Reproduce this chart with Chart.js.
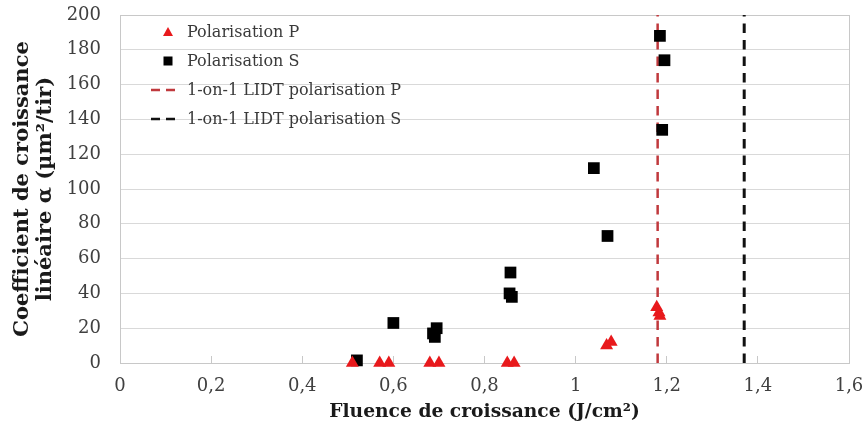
<!DOCTYPE html>
<html>
<head>
<meta charset="utf-8">
<script src="https://cdn.jsdelivr.net/npm/chart.js@4.4.1/dist/chart.umd.min.js"></script>
<style>
  html, body { margin: 0; padding: 0; background: #fff; }
</style>
</head>
<body>
<canvas id="chart" width="866" height="434"></canvas>
<script>
// Polarisation P (triangles rouges)
const fluenceP = [0.51, 0.57, 0.59, 0.68, 0.70, 0.85, 0.865, 1.068, 1.078, 1.178, 1.183, 1.185]
const alphaP = [0, 0, 0, 0, 0, 0, 0, 10, 12, 32, 29, 27]

// Polarisation S (carrés noirs)
const fluenceS = [0.52, 0.60, 0.687, 0.691, 0.695, 0.855, 0.857, 0.86, 1.04, 1.07, 1.185, 1.19, 1.195]
const alphaS = [1.5, 23, 17, 15, 20, 40, 52, 38, 112, 73, 188, 134, 174]

// seuils 1-on-1 LIDT
const lidtP = 1.18
const lidtS = 1.37

const labels = ['Polarisation P', 'Polarisation S', '1-on-1 LIDT polarisation P', '1-on-1 LIDT polarisation S']
const xRange = [0, 1.6]
const yRange = [0, 200]

const fontFamily = '"DejaVu Serif", serif'

const toPoints = (xs, ys) => xs.map((x, i) => ({ x: x, y: ys[i] }))

// cadre gris autour de la zone de tracé
const framePlugin = {
  id: 'frame',
  beforeDatasetsDraw(chart) {
    const { ctx, chartArea: a } = chart
    ctx.save()
    ctx.strokeStyle = '#c8c8c8'
    ctx.lineWidth = 1
    ctx.strokeRect(a.left + 0.5, a.top + 0.5, a.right - a.left, a.bottom - a.top)
    ctx.restore()
  }
}

// légende dans la zone de tracé, en haut à gauche
const legendPlugin = {
  id: 'insideLegend',
  afterDraw(chart) {
    const { ctx, chartArea: a } = chart
    const mx = a.left + 48
    const tx = a.left + 67
    ctx.save()
    ctx.font = '16px ' + fontFamily
    ctx.textBaseline = 'middle'
    chart.data.datasets.forEach((ds, i) => {
      const y = a.top + 17 + i * 29
      if (ds.pointStyle === 'triangle') {
        ctx.fillStyle = ds.backgroundColor
        ctx.beginPath()
        ctx.moveTo(mx, y - 5)
        ctx.lineTo(mx + 5, y + 4)
        ctx.lineTo(mx - 5, y + 4)
        ctx.closePath()
        ctx.fill()
      } else if (ds.pointStyle === 'rect') {
        ctx.fillStyle = ds.backgroundColor
        ctx.fillRect(mx - 4.5, y - 4.5, 9, 9)
      } else {
        ctx.strokeStyle = ds.borderColor
        ctx.lineWidth = 2.5
        ctx.setLineDash([9, 6])
        ctx.beginPath()
        ctx.moveTo(mx - 17, y)
        ctx.lineTo(mx + 8, y)
        ctx.stroke()
        ctx.setLineDash([])
      }
      ctx.fillStyle = '#3a3a3a'
      ctx.fillText(ds.label, tx, y + 1)
    })
    ctx.restore()
  }
}

new Chart(document.getElementById('chart').getContext('2d'), {
  type: 'scatter',
  data: {
    datasets: [
      {
        label: labels[0],
        data: toPoints(fluenceP, alphaP),
        pointStyle: 'triangle',
        pointRadius: 7.5,
        pointBorderWidth: 0,
        backgroundColor: '#e8191c',
        borderColor: '#e8191c',
        clip: false
      },
      {
        label: labels[1],
        data: toPoints(fluenceS, alphaS),
        pointStyle: 'rect',
        pointRadius: 8.3,
        pointBorderWidth: 0,
        backgroundColor: '#000000',
        borderColor: '#000000',
        clip: false
      },
      {
        label: labels[2],
        data: toPoints([lidtP, lidtP], yRange),
        showLine: true,
        pointRadius: 0,
        pointStyle: 'line',
        borderColor: '#c0393d',
        borderWidth: 2.5,
        borderDash: [9.5, 7]
      },
      {
        label: labels[3],
        data: toPoints([lidtS, lidtS], yRange),
        showLine: true,
        pointRadius: 0,
        pointStyle: 'line',
        borderColor: '#111111',
        borderWidth: 3,
        borderDash: [9.5, 7]
      }
    ]
  },
  options: {
    responsive: false,
    animation: false,
    layout: { padding: { left: 0, right: 17, top: 15, bottom: 11 } },
    plugins: {
      legend: { display: false },
      tooltip: { enabled: false }
    },
    scales: {
      x: {
        min: xRange[0],
        max: xRange[1],
        grid: { display: true, drawOnChartArea: false, color: '#c8c8c8', tickLength: -7 },
        border: { color: '#c8c8c8' },
        ticks: {
          stepSize: 0.2,
          padding: 20,
          color: '#404040',
          font: { family: fontFamily, size: 18 },
          maxRotation: 0,
          callback: v => String(Math.round(v * 10) / 10).replace('.', ',')
        },
        title: {
          display: true,
          text: 'Fluence de croissance (J/cm²)',
          color: '#1a1a1a',
          font: { family: fontFamily, size: 18.7, weight: 'bold' },
          padding: { top: 0, bottom: 0 }
        },
        afterFit: scale => {
          scale.height = 60
          scale.paddingLeft = 0
          scale.paddingRight = 0
        }
      },
      y: {
        min: yRange[0],
        max: yRange[1],
        grid: { color: '#d9d9d9', drawTicks: false },
        border: { color: '#c8c8c8' },
        ticks: {
          stepSize: 20,
          padding: 19,
          color: '#404040',
          font: { family: fontFamily, size: 18 }
        },
        title: {
          display: true,
          text: ['Coefficient de croissance', 'linéaire α (µm²/tir)'],
          color: '#1a1a1a',
          font: { family: fontFamily, size: 21, weight: 'bold', lineHeight: 1.05 },
          padding: { top: 12, bottom: 0 }
        },
        afterFit: scale => {
          scale.width = 120
          scale.paddingTop = 0
          scale.paddingBottom = 0
        }
      }
    }
  },
  plugins: [framePlugin, legendPlugin]
})
</script>
</body>
</html>
